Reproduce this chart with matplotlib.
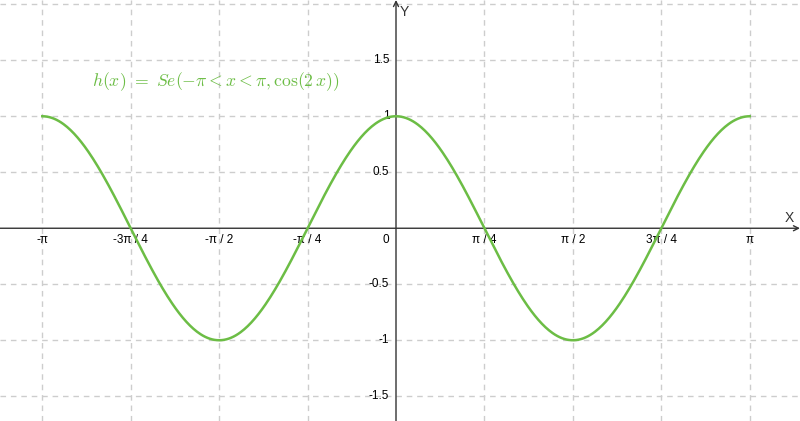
import numpy as np
import matplotlib
matplotlib.use("Agg")
import matplotlib.pyplot as plt

# tick positions in multiples of pi/4 and their labels
x_tick_quarters = [-4, -3, -2, -1, 1, 2, 3, 4]
x_tick_labels = ["-π", "-3π / 4", "-π / 2", "-π / 4", "π / 4", "π / 2", "3π / 4", "π"]
y_ticks = [-1.5, -1, -0.5, 0.5, 1, 1.5]
y_tick_labels = ["-1.5", "-1", "-0.5", "0.5", "1", "1.5"]
y_grid = [-1.5, -1, -0.5, 0.5, 1, 1.5, 2]

# h(x) = cos(2x) on -pi < x < pi
curve_x = np.linspace(-np.pi, np.pi, 600)
curve_y = np.cos(2 * curve_x)

green = "#6cbd45"
grid_col = "#cdcdcd"
axis_col = "#333333"

plt.rcParams["mathtext.fontset"] = "cm"
plt.rcParams["font.family"] = ["Liberation Sans", "DejaVu Sans"]

fig = plt.figure(figsize=(8, 4.21), dpi=100)
ax = fig.add_axes([0, 0, 1, 1])
ax.set_xlim(-3.517, 3.588)
ax.set_ylim(-1.721, 2.038)
ax.axis("off")

xt = [q * np.pi / 4 for q in x_tick_quarters]
for x in xt:
    ax.axvline(x, color=grid_col, lw=1, ls=(0, (4, 3.5)), zorder=1)
for y in y_grid:
    ax.axhline(y, color=grid_col, lw=1, ls=(0, (4, 3.5)), zorder=1)

# axes with arrows
ax.annotate("", xy=(3.588, 0), xytext=(-3.517, 0),
            arrowprops=dict(arrowstyle="->", color=axis_col, lw=1,
                            shrinkA=0, shrinkB=0, mutation_scale=9), zorder=2)
ax.annotate("", xy=(0, 2.038), xytext=(0, -1.721),
            arrowprops=dict(arrowstyle="->", color=axis_col, lw=1,
                            shrinkA=0, shrinkB=0, mutation_scale=9), zorder=2)
ax.text(3.49, 0.03, "X", fontsize=10, color=axis_col, ha="center", va="bottom")
ax.text(0.03, 1.93, "Y", fontsize=10, color=axis_col, ha="left", va="center")

for x, lab in zip(xt, x_tick_labels):
    ax.text(x, -0.05, lab, fontsize=8.5, color="black", ha="center", va="top")
ax.text(-0.06, -0.05, "0", fontsize=8.5, color="black", ha="right", va="top")
for y, lab in zip(y_ticks, y_tick_labels):
    ax.text(-0.06, y, lab, fontsize=8.5, color="black", ha="right", va="center")

ax.plot(curve_x, curve_y, color=green, lw=1.8, zorder=3)

ax.text(-2.70, 1.305, r"$h(x)\ =\ Se(-\pi < x < \pi, \cos(2\,x))$",
        fontsize=12.7, color=green, ha="left", va="center")

fig.savefig("out.png", dpi=100)
